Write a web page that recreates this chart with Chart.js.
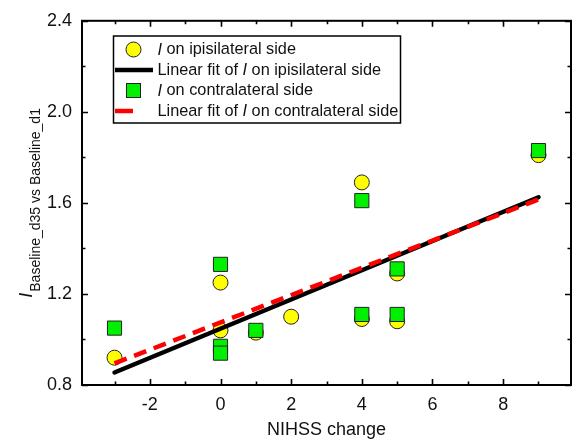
<!DOCTYPE html>
<html><head><meta charset="utf-8">
<script src="https://cdn.jsdelivr.net/npm/chart.js@4/dist/chart.umd.min.js"></script>
<style>html,body{margin:0;padding:0;background:#fff}#wrap{width:582px;height:441px;position:relative}</style>
</head><body><div id="wrap"><canvas id="c" width="582" height="441"></canvas></div>
<script>
// ---- data ----
const ipsiX = [-3, 0, 0, 1, 2, 4, 4, 5, 5, 9];
const ipsiY = [0.92, 1.25, 1.04, 1.03, 1.10, 1.69, 1.09, 1.29, 1.08, 1.81];
const contraX = [-3, 0, 0, 0, 1, 4, 4, 5, 5, 9];
const contraY = [1.05, 1.33, 0.97, 0.94, 1.04, 1.61, 1.11, 1.31, 1.11, 1.83];
const fitX = [-3, 9];
const ipsiFitY = [0.855, 1.625];
const contraFitY = [0.895, 1.615];
const xTicks = [-2, 0, 2, 4, 6, 8];
const xMinorTicks = [-3, -1, 1, 3, 5, 7, 9];
const yTicks = [0.8, 1.2, 1.6, 2.0, 2.4];
const yMinorTicks = [1.0, 1.4, 1.8, 2.2];
const xTitle = 'NIHSS change';
const yTitleMain = 'I';
const yTitleSub = 'Baseline_d35 vs Baseline_d1';
const legendLabels = [
  [{t: 'I', it: true}, {t: ' on ipisilateral side'}],
  [{t: 'Linear fit of '}, {t: 'I', it: true}, {t: ' on ipisilateral side'}],
  [{t: 'I', it: true}, {t: ' on contralateral side'}],
  [{t: 'Linear fit of '}, {t: 'I', it: true}, {t: ' on contralateral side'}]
];

const FONT = "'Liberation Sans', Arial, Helvetica, sans-serif";
const toPts = (xs, ys) => xs.map((x, i) => ({x: x, y: ys[i]}));

const framePlugin = {
  id: 'frame',
  afterDatasetsDraw(chart) {
    const ctx = chart.ctx, a = chart.chartArea;
    const xs = chart.scales.x, ys = chart.scales.y;
    ctx.save();
    ctx.strokeStyle = '#000';
    ctx.lineWidth = 2;
    ctx.strokeRect(a.left, a.top, a.right - a.left, a.bottom - a.top);
    ctx.lineWidth = 1.6;
    ctx.beginPath();
    const tickX = (vals, len) => vals.forEach(v => {
      const p = Math.round(xs.getPixelForValue(v)) + 0.5;
      ctx.moveTo(p, a.bottom); ctx.lineTo(p, a.bottom - len);
      ctx.moveTo(p, a.top); ctx.lineTo(p, a.top + len);
    });
    const tickY = (vals, len) => vals.forEach(v => {
      const p = Math.round(ys.getPixelForValue(v)) + 0.5;
      ctx.moveTo(a.left, p); ctx.lineTo(a.left + len, p);
      ctx.moveTo(a.right, p); ctx.lineTo(a.right - len, p);
    });
    tickX(xTicks, 6); tickX(xMinorTicks, 3.5);
    tickY(yTicks, 6); tickY(yMinorTicks, 3.5);
    ctx.stroke();
    ctx.restore();
  },
  afterDraw(chart) {
    const ctx = chart.ctx, a = chart.chartArea;
    ctx.save();
    // y title with subscript
    ctx.fillStyle = '#111';
    ctx.font = 'italic 18px ' + FONT;
    const wI = ctx.measureText(yTitleMain).width;
    ctx.font = '14px ' + FONT;
    const wS = ctx.measureText(yTitleSub).width;
    const W = wI + 1 + wS;
    const cy = (a.top + a.bottom) / 2;
    ctx.translate(31.5, cy);
    ctx.rotate(-Math.PI / 2);
    ctx.textBaseline = 'alphabetic';
    ctx.textAlign = 'left';
    ctx.font = 'italic 18px ' + FONT;
    ctx.fillText(yTitleMain, -W / 2, 0);
    ctx.font = '14px ' + FONT;
    ctx.fillText(yTitleSub, -W / 2 + wI + 1, 8.5);
    ctx.restore();

    // legend box
    ctx.save();
    const bx = 113.5, by = 36, bw = 287, bh = 87;
    ctx.fillStyle = '#fff';
    ctx.fillRect(bx, by, bw, bh);
    ctx.strokeStyle = '#000';
    ctx.lineWidth = 1.5;
    ctx.strokeRect(bx, by, bw, bh);
    const rows = [49.5, 70, 90.5, 111];
    const ds = chart.data.datasets;
    // markers
    ctx.lineWidth = 1;
    ctx.strokeStyle = ds[0].borderColor;
    ctx.fillStyle = ds[0].backgroundColor;
    ctx.beginPath(); ctx.arc(133.5, rows[0], 7.5, 0, Math.PI * 2); ctx.fill(); ctx.stroke();
    ctx.strokeStyle = ds[1].borderColor; ctx.lineWidth = ds[1].borderWidth;
    ctx.beginPath(); ctx.moveTo(115, rows[1]); ctx.lineTo(153, rows[1]); ctx.stroke();
    ctx.lineWidth = 1;
    ctx.strokeStyle = ds[2].borderColor; ctx.fillStyle = ds[2].backgroundColor;
    ctx.fillRect(126.5, rows[2] - 7, 14, 14); ctx.strokeRect(126.5, rows[2] - 7, 14, 14);
    ctx.strokeStyle = ds[3].borderColor; ctx.lineWidth = ds[3].borderWidth;
    ctx.beginPath(); ctx.moveTo(115, rows[3]); ctx.lineTo(133, rows[3]); ctx.stroke();
    // texts
    ctx.fillStyle = '#111';
    ctx.textBaseline = 'middle';
    ctx.textAlign = 'left';
    legendLabels.forEach((segs, i) => {
      let x = 157.5;
      segs.forEach(s => {
        ctx.font = (s.it ? 'italic ' : '') + '16.3px ' + FONT;
        ctx.fillText(s.t, x, rows[i] + 0.5);
        x += ctx.measureText(s.t).width;
      });
    });
    ctx.restore();
  }
};

new Chart(document.getElementById('c'), {
  type: 'scatter',
  data: {
    datasets: [
      {label: 'I on ipisilateral side', data: toPts(ipsiX, ipsiY), pointStyle: 'circle', pointRadius: 7.5,
       pointHoverRadius: 7.5, backgroundColor: '#ffff00', borderColor: '#222', borderWidth: 1, order: 4},
      {label: 'Linear fit of I on ipisilateral side', type: 'line', data: toPts(fitX, ipsiFitY), showLine: true,
       borderColor: '#000', borderWidth: 4.5, pointRadius: 0, fill: false, borderCapStyle: 'round', order: 3},
      {label: 'I on contralateral side', data: toPts(contraX, contraY), pointStyle: 'rect', pointRadius: 10,
       pointHoverRadius: 10, backgroundColor: '#00f000', borderColor: '#222', borderWidth: 1, order: 2},
      {label: 'Linear fit of I on contralateral side', type: 'line', data: toPts(fitX, contraFitY), showLine: true,
       borderColor: '#ff0000', borderWidth: 4.5, borderDash: [13, 8], pointRadius: 0, fill: false, order: 1}
    ]
  },
  options: {
    responsive: false,
    animation: false,
    devicePixelRatio: 1,
    layout: {padding: {top: 20, right: 1, left: 0, bottom: 0}},
    plugins: {legend: {display: false}, tooltip: {enabled: false}},
    scales: {
      x: {
        type: 'linear', position: 'bottom', min: -3.92, max: 9.92,
        grid: {display: false, drawTicks: false}, border: {display: false},
        title: {display: true, text: xTitle, color: '#111', font: {family: FONT, size: 18}, padding: {top: 0, bottom: 0}},
        ticks: {color: '#111', font: {family: FONT, size: 18}, padding: 9, maxRotation: 0,
                callback: v => String(v)},
        afterBuildTicks: s => { s.ticks = xTicks.map(v => ({value: v})); },
        afterFit: s => { s.height = 56; }
      },
      y: {
        type: 'linear', min: 0.8, max: 2.4,
        grid: {display: false, drawTicks: false}, border: {display: false},
        ticks: {color: '#111', font: {family: FONT, size: 18}, padding: 10,
                callback: v => Number(v).toFixed(1)},
        afterBuildTicks: s => { s.ticks = yTicks.map(v => ({value: v})); },
        afterFit: s => { s.width = 82; }
      }
    }
  },
  plugins: [framePlugin]
});
</script>
</body></html>
